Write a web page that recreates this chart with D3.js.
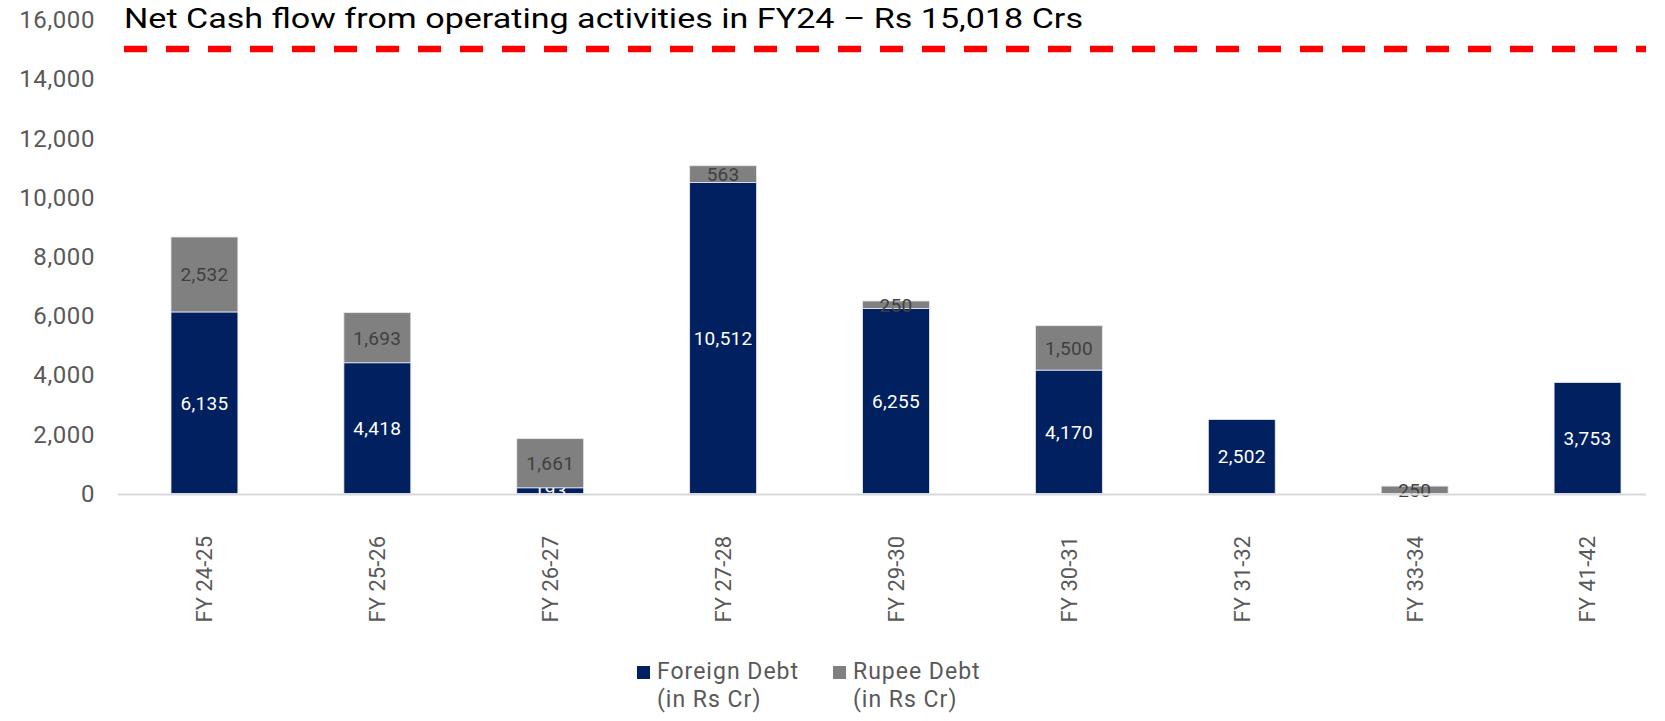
<!DOCTYPE html>
<html>
<head>
<meta charset="utf-8">
<script src="https://cdn.jsdelivr.net/npm/d3@7"></script>
<style>
  body { margin: 0; background: #fff; }
  svg { display: block; font-family: Roboto, "Open Sans", sans-serif; }
</style>
</head>
<body>
<svg id="chart"></svg>
<script>
// chart data
const categories = ["FY 24-25", "FY 25-26", "FY 26-27", "FY 27-28", "FY 29-30", "FY 30-31", "FY 31-32", "FY 33-34", "FY 41-42"];
const foreignDebt = [6135, 4418, 193, 10512, 6255, 4170, 2502, 0, 3753];
const rupeeDebt = [2532, 1693, 1661, 563, 250, 1500, 0, 250, 0];
const yTicks = [0, 2000, 4000, 6000, 8000, 10000, 12000, 14000, 16000];
const cashFlowLine = 15018;
const titleText = "Net Cash flow from operating activities in FY24 \u2013 Rs 15,018 Crs";
const seriesNames = ["Foreign Debt", "Rupee Debt"];

const W = 1665, H = 721;
const colors = {foreign: "#002060", rupee: "#808080"};

const svg = d3.select("#chart").attr("width", W).attr("height", H);

// scales
const x = d3.scaleBand()
  .domain(categories)
  .range([118, 1674])
  .paddingInner(0.613)
  .paddingOuter(0.3065);

const y = d3.scaleLinear()
  .domain([0, 16000])
  .range([493.5, 20]);

const fmt = d3.format(",");

// rows for stacking
const rows = categories.map((c, i) => ({cat: c, foreign: foreignDebt[i], rupee: rupeeDebt[i]}));
const stack = d3.stack().keys(["foreign", "rupee"])(rows);

// y axis labels (no line, no ticks)
const yAxis = d3.axisLeft(y).tickValues(yTicks).tickFormat(fmt).tickSize(0).tickPadding(0);
const yAxisG = svg.append("g")
  .attr("transform", "translate(95,0)")
  .call(yAxis);
yAxisG.select(".domain").remove();
yAxisG.selectAll("text")
  .attr("fill", "#595959")
  .style("font-size", "24px")
  .style("letter-spacing", "0.6px")
  .style("font-family", "Roboto, sans-serif");

// bars
const layers = svg.append("g").selectAll("g")
  .data(stack)
  .join("g")
  .attr("fill", d => colors[d.key]);

layers.selectAll("rect")
  .data(d => d.filter(s => s[1] - s[0] > 0))
  .join("rect")
  .attr("x", d => x(d.data.cat))
  .attr("width", x.bandwidth())
  .attr("y", d => y(d[1]))
  .attr("height", d => y(d[0]) - y(d[1]))
  .attr("stroke", "#e6e9f2")
  .attr("stroke-width", 0.8);

// x axis baseline
svg.append("line")
  .attr("x1", 118).attr("x2", 1646)
  .attr("y1", y(0) + 1).attr("y2", y(0) + 1)
  .attr("stroke", "#d9d9d9")
  .attr("stroke-width", 2);

// value labels
layers.each(function(layer) {
  const key = layer.key;
  d3.select(this).selectAll("text")
    .data(layer.filter(s => s[1] - s[0] > 0))
    .join("text")
    .attr("x", d => x(d.data.cat) + x.bandwidth() / 2)
    .attr("y", d => y((d[0] + d[1]) / 2))
    .attr("dy", "0.36em")
    .attr("text-anchor", "middle")
    .attr("fill", key === "foreign" ? "#ffffff" : "#404040")
    .style("font-size", "19px")
    .style("letter-spacing", "0.3px")
    .text(d => fmt(d[1] - d[0]));
});

// category labels, rotated
svg.append("g").selectAll("text")
  .data(categories)
  .join("text")
  .attr("transform", d => `translate(${x(d) + x.bandwidth() / 2},536) rotate(-90)`)
  .attr("text-anchor", "end")
  .attr("dy", "0.36em")
  .attr("fill", "#595959")
  .style("font-size", "22px")
  .text(d => d);

// dashed line for net operating cash flow
svg.append("line")
  .attr("x1", 124).attr("x2", 1646)
  .attr("y1", y(cashFlowLine)).attr("y2", y(cashFlowLine))
  .attr("stroke", "#ff0000")
  .attr("stroke-width", 6.5)
  .attr("stroke-dasharray", "23,19");

svg.append("text")
  .attr("x", 124)
  .attr("y", 28)
  .attr("fill", "#000")
  .style("font-size", "27px")
  .attr("textLength", 959)
  .attr("lengthAdjust", "spacingAndGlyphs")
  .text(titleText);

// legend
const legend = svg.append("g");
const legendItems = [
  {name: seriesNames[0], color: colors.foreign, x: 637},
  {name: seriesNames[1], color: colors.rupee, x: 833}
];
legendItems.forEach(it => {
  const g = legend.append("g").attr("transform", `translate(${it.x},0)`);
  g.append("rect").attr("x", 0).attr("y", 666).attr("width", 13).attr("height", 13).attr("fill", it.color);
  const t = g.append("text").attr("fill", "#595959").style("font-size", "23px").style("letter-spacing", "1px");
  t.append("tspan").attr("x", 20).attr("y", 679).text(it.name);
  t.append("tspan").attr("x", 20).attr("y", 707).text("(in Rs Cr)");
});
</script>
</body>
</html>
